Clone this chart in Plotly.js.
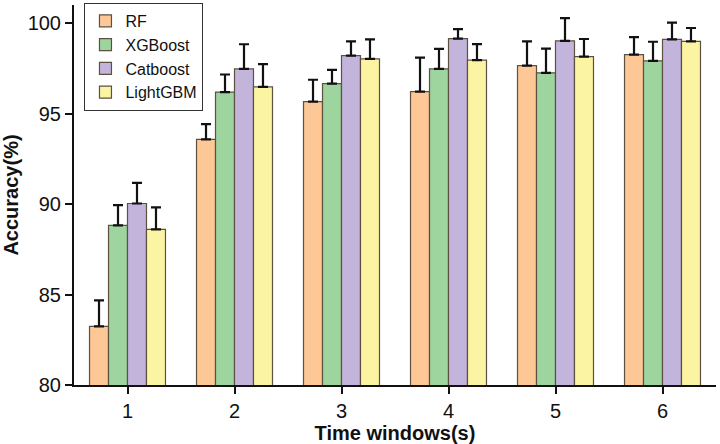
<!DOCTYPE html>
<html>
<head>
<meta charset="utf-8">
<script src="https://cdn.plot.ly/plotly-3.0.1.min.js"></script>
<style>
  html, body { margin: 0; padding: 0; background: #fff; }
  #plot { width: 720px; height: 444px; }
</style>
</head>
<body>
<div id="plot"></div>
<script>
const windows = [1, 2, 3, 4, 5, 6];

const rfMean = [83.24, 93.57, 95.66, 96.21, 97.65, 98.26];
const rfErr = [1.44, 0.85, 1.21, 1.88, 1.34, 0.96];

const xgbMean = [88.82, 96.19, 96.66, 97.47, 97.25, 97.91];
const xgbErr = [1.12, 0.97, 0.76, 1.10, 1.34, 1.06];

const catMean = [90.03, 97.47, 98.20, 99.14, 99.02, 99.10];
const catErr = [1.14, 1.36, 0.79, 0.53, 1.25, 0.93];

const lgbMean = [88.60, 96.48, 98.02, 97.95, 98.15, 98.99];
const lgbErr = [1.22, 1.25, 1.08, 0.89, 0.97, 0.74];

const names = ["RF", "XGBoost", "Catboost", "LightGBM"];
const colors = ["#fdc896", "#9ed49e", "#c3b4dc", "#fbf4a3"];

function barTrace(name, y, err, color) {
    return {
        type: "bar",
        name: name,
        x: windows,
        y: y,
        marker: {color: color, line: {color: "#5c5040", width: 1.2}},
        error_y: {
            type: "data",
            symmetric: false,
            array: err,
            arrayminus: err.map(() => 0),
            color: "#111",
            thickness: 2.2,
            width: 5
        }
    };
}

const traces = [
    barTrace(names[0], rfMean, rfErr, colors[0]),
    barTrace(names[1], xgbMean, xgbErr, colors[1]),
    barTrace(names[2], catMean, catErr, colors[2]),
    barTrace(names[3], lgbMean, lgbErr, colors[3])
];

Plotly.newPlot("plot", traces, {
    width: 720,
    height: 444,
    margin: {l: 74, r: 4, t: 3, b: 59},
    paper_bgcolor: "#fff",
    plot_bgcolor: "#fff",
    font: {family: "Liberation Sans, Arial, sans-serif", color: "#111", size: 20},
    barmode: "group",
    bargap: 0.29,
    bargroupgap: 0,
    showlegend: true,
    legend: {
        x: 0.016, y: 1.006,
        xanchor: "left", yanchor: "top",
        bgcolor: "#fff",
        bordercolor: "#333",
        borderwidth: 1.2,
        font: {size: 16},
        tracegroupgap: 0,
        itemwidth: 30
    },
    xaxis: {
        range: [0.5, 6.5],
        tickvals: windows,
        ticks: "outside",
        ticklen: 7,
        tickwidth: 2,
        tickcolor: "#111",
        showline: true,
        linewidth: 2,
        linecolor: "#111",
        showgrid: false,
        zeroline: false,
        title: {text: "<b>Time windows(s)</b>", font: {size: 20}, standoff: 4}
    },
    yaxis: {
        range: [80, 101],
        tickvals: [80, 85, 90, 95, 100],
        ticks: "outside",
        ticklen: 7,
        tickwidth: 2,
        tickcolor: "#111",
        showline: true,
        linewidth: 2,
        linecolor: "#111",
        showgrid: false,
        zeroline: false,
        title: {text: "<b>Accuracy(%)</b>", font: {size: 20}, standoff: 6}
    }
}, {displayModeBar: false});
</script>
</body>
</html>
